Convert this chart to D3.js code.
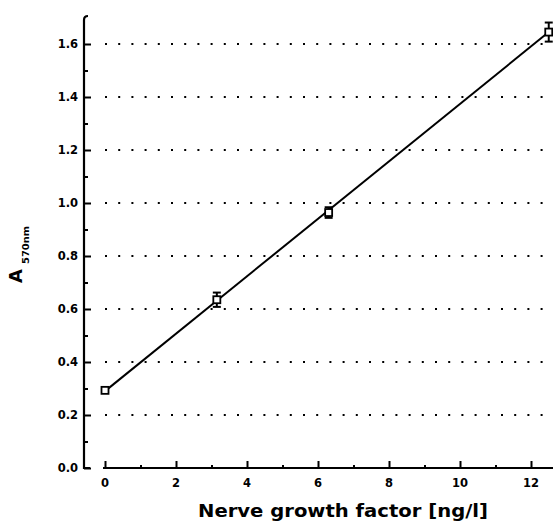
<!DOCTYPE html>
<html>
<head>
<meta charset="utf-8">
<script src="https://cdn.jsdelivr.net/npm/d3@7"></script>
<style>
  html, body { margin: 0; padding: 0; background: #fff; }
  svg { display: block; }
  text { font-family: "DejaVu Sans", "Liberation Sans", sans-serif; font-weight: bold; fill: #000; }
</style>
</head>
<body>
<svg id="chart" width="553" height="524"></svg>
<script>
// ---- data ----
const nerveGrowthFactor = [0, 3.15, 6.3, 12.5];          // ng/l
const absorbance       = [0.293, 0.635, 0.964, 1.645];   // A570nm
const absorbanceErr    = [0.008, 0.027, 0.020, 0.036];
const fitLineX = [0, 12.5];
const fitLineY = [0.29, 1.645];
const xTickValues = [0, 2, 4, 6, 8, 10, 12];
const xMinorTickValues = [1, 3, 5, 7, 9, 11];
const yTickValues = [0.0, 0.2, 0.4, 0.6, 0.8, 1.0, 1.2, 1.4, 1.6];
const yMinorTickValues = [0.1, 0.3, 0.5, 0.7, 0.9, 1.1, 1.3, 1.5];
const gridValues = [0.2, 0.4, 0.6, 0.8, 1.0, 1.2, 1.4, 1.6];
const xTitle = "Nerve growth factor [ng/l]";
const yTitleMain = "A";
const yTitleSub = "570nm";

// ---- layout ----
const svg = d3.select("#chart");
const x = d3.scaleLinear().domain([0, 12]).range([105, 531]);
const y = d3.scaleLinear().domain([0, 1.6]).range([468, 44]);
const yAxisX = 84;

// gridlines (dotted)
svg.append("g").selectAll("line").data(gridValues).join("line")
  .attr("x1", 105).attr("x2", 553)
  .attr("y1", d => y(d)).attr("y2", d => y(d))
  .attr("stroke", "#000").attr("stroke-width", 2)
  .attr("stroke-dasharray", "2,11.2");

// y axis
const yAxisG = svg.append("g").attr("transform", `translate(${yAxisX},0)`)
  .call(d3.axisRight(y).tickValues(yTickValues).tickSize(7).tickFormat(""));
yAxisG.select(".domain").remove();
yAxisG.selectAll(".tick line").attr("stroke", "#000").attr("stroke-width", 2);
svg.append("g").attr("transform", `translate(${yAxisX},0)`)
  .call(d3.axisRight(y).tickValues(yMinorTickValues).tickSize(4).tickFormat(""))
  .call(g => g.select(".domain").remove())
  .selectAll(".tick line").attr("stroke", "#000").attr("stroke-width", 2);
svg.append("path")
  .attr("d", `M${yAxisX + 4},16 Q${yAxisX},16 ${yAxisX},20 L${yAxisX},${y(0)} L${yAxisX + 6},${y(0)}`)
  .attr("fill", "none").attr("stroke", "#000").attr("stroke-width", 2.2);
svg.append("g").selectAll("text").data(yTickValues).join("text")
  .attr("x", yAxisX - 6).attr("y", d => y(d))
  .attr("dy", "0.36em").attr("text-anchor", "end")
  .attr("font-size", 11.5)
  .text(d => d3.format(".1f")(d));

// x axis
svg.append("line").attr("x1", 103).attr("x2", 553)
  .attr("y1", y(0)).attr("y2", y(0))
  .attr("stroke", "#000").attr("stroke-width", 2.2);
svg.append("g").attr("transform", `translate(0,${y(0)})`)
  .call(d3.axisTop(x).tickValues(xTickValues).tickSize(7).tickFormat(""))
  .call(g => g.select(".domain").remove())
  .selectAll(".tick line").attr("stroke", "#000").attr("stroke-width", 2);
svg.append("g").attr("transform", `translate(0,${y(0)})`)
  .call(d3.axisTop(x).tickValues(xMinorTickValues).tickSize(3).tickFormat(""))
  .call(g => g.select(".domain").remove())
  .selectAll(".tick line").attr("stroke", "#000").attr("stroke-width", 2);
svg.append("g").selectAll("text").data(xTickValues).join("text")
  .attr("x", d => x(d)).attr("y", 487)
  .attr("text-anchor", "middle").attr("font-size", 11.5)
  .text(d => d);

// titles
svg.append("text").attr("x", 343).attr("y", 517)
  .attr("text-anchor", "middle").attr("font-size", 17)
  .attr("textLength", 290).attr("lengthAdjust", "spacingAndGlyphs")
  .text(xTitle);
const yTitle = svg.append("g").attr("transform", "translate(22,283) rotate(-90)");
yTitle.append("text").attr("x", 0).attr("y", 0)
  .attr("font-size", 18).text(yTitleMain);
yTitle.append("text").attr("x", 19).attr("y", 7)
  .attr("font-size", 9)
  .attr("textLength", 38).attr("lengthAdjust", "spacingAndGlyphs")
  .text(yTitleSub);

// fit line
svg.append("path")
  .datum(fitLineX.map((d, i) => [d, fitLineY[i]]))
  .attr("d", d3.line().x(d => x(d[0])).y(d => y(d[1])))
  .attr("fill", "none").attr("stroke", "#000").attr("stroke-width", 2);

// error bars
const pts = nerveGrowthFactor.map((d, i) => ({ x: d, y: absorbance[i], e: absorbanceErr[i] }));
const eb = svg.append("g").selectAll("g").data(pts).join("g");
eb.append("line")
  .attr("x1", d => x(d.x)).attr("x2", d => x(d.x))
  .attr("y1", d => y(d.y + d.e)).attr("y2", d => y(d.y - d.e))
  .attr("stroke", "#000").attr("stroke-width", 2);
eb.append("line")
  .attr("x1", d => x(d.x) - 4).attr("x2", d => x(d.x) + 4)
  .attr("y1", d => y(d.y + d.e)).attr("y2", d => y(d.y + d.e))
  .attr("stroke", "#000").attr("stroke-width", 2);
eb.append("line")
  .attr("x1", d => x(d.x) - 4).attr("x2", d => x(d.x) + 4)
  .attr("y1", d => y(d.y - d.e)).attr("y2", d => y(d.y - d.e))
  .attr("stroke", "#000").attr("stroke-width", 2);

// markers: open squares
svg.append("g").selectAll("rect").data(pts).join("rect")
  .attr("x", d => x(d.x) - 3.5).attr("y", d => y(d.y) - 3.5)
  .attr("width", 7).attr("height", 7)
  .attr("fill", "#fff").attr("stroke", "#000").attr("stroke-width", 1.8);
</script>
</body>
</html>
